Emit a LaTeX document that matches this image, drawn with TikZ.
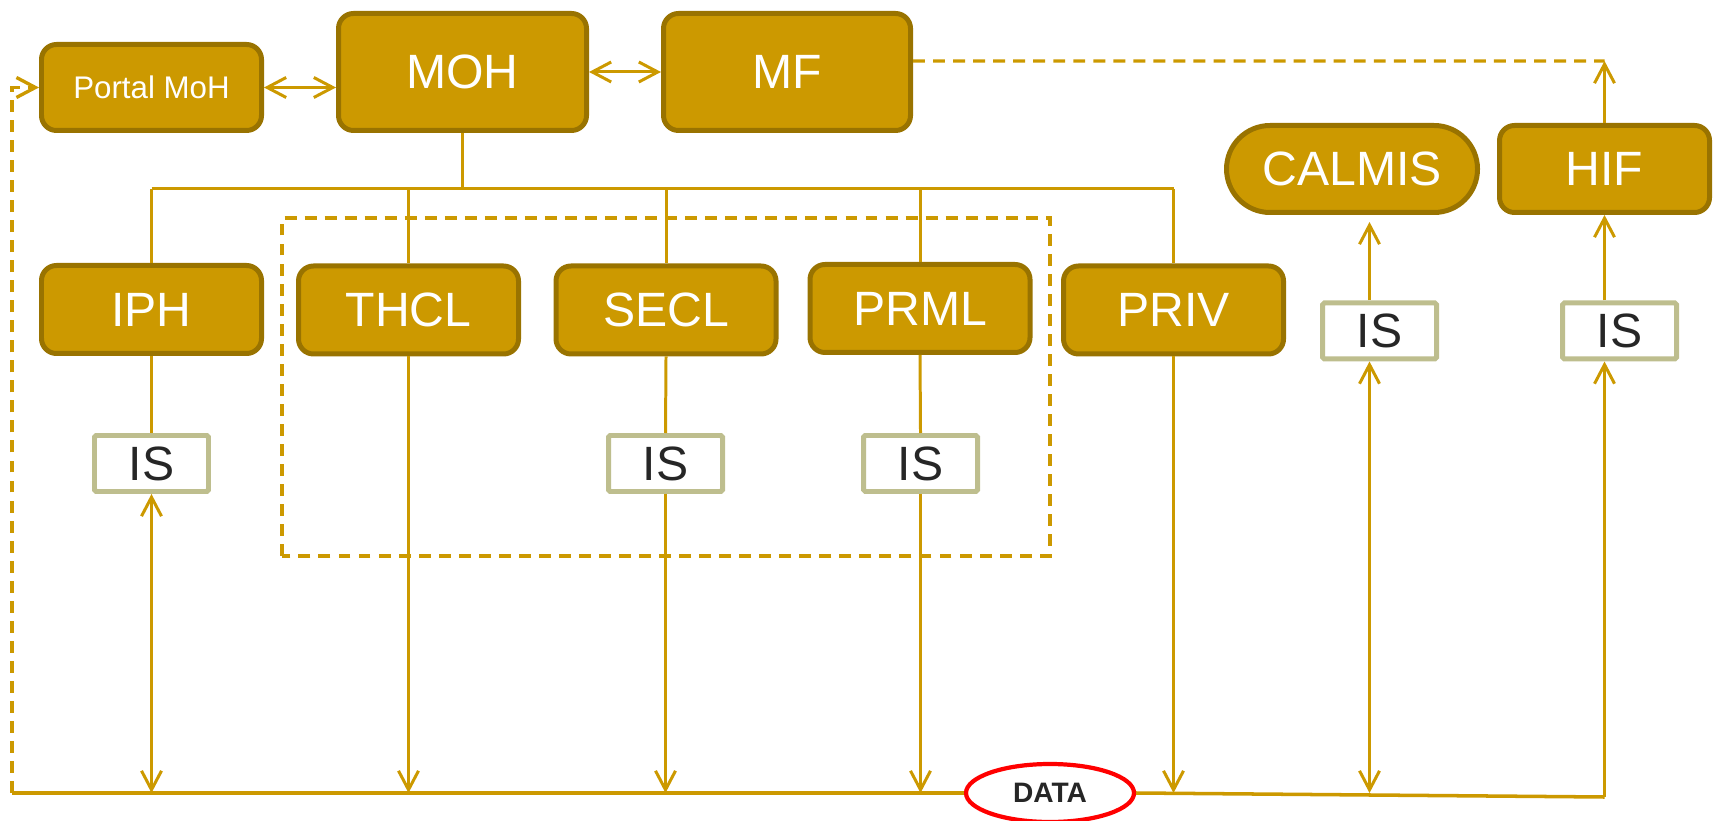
\documentclass[tikz,border=0pt]{standalone}
\usepackage{fontspec}
\setmainfont{Liberation Sans}
\usepackage{tikz}
\usetikzlibrary{arrows.meta}
\usetikzlibrary{shapes.geometric}
\definecolor{gold}{HTML}{CC9900}
\definecolor{golddark}{HTML}{997300}
\definecolor{isgray}{HTML}{BEBE8E}
\definecolor{textgray}{HTML}{262626}
\tikzset{orgbox/.style={draw=golddark, fill=gold, line width=1.42pt, rounded corners=0.15cm, text=white, inner sep=0pt,
  minimum width=2.20cm, minimum height=0.88cm, font=\fontsize{13.7}{14}\selectfont},
isbox/.style={draw=isgray, fill=white, line width=1.42pt, rounded corners=0.5pt, text=textgray, inner sep=0pt,
  minimum width=1.14cm, minimum height=0.56cm, font=\fontsize{13.7}{14}\selectfont},
conn/.style={gold, line width=0.85pt},
%dashed links
dlink/.style={gold, line width=0.95pt, dash pattern=on 3.4pt off 2.3pt}}

\begin{document}
\begin{tikzpicture}[>={Straight Barb[length=1.9mm,width=2mm]}]
\useasboundingbox (0,0) rectangle (17.13,8.20);
% ministries
\node[orgbox, minimum height=0.86cm, font=\fontsize{8.9}{10}\selectfont] (portal) at (1.515,7.325) {Portal MoH};
\node[orgbox, minimum width=2.48cm, minimum height=1.17cm] (moh) at (4.625,7.48) {MOH};
\node[orgbox, minimum width=2.47cm, minimum height=1.17cm] (mf) at (7.87,7.48) {MF};
\node[orgbox, minimum width=2.51cm, minimum height=0.87cm, rounded corners=0.435cm] (calmis) at (13.52,6.51) {CALMIS};
\node[orgbox, minimum width=2.10cm, minimum height=0.87cm] (hif) at (16.045,6.51) {HIF};

% providers
\node[orgbox] (iph) at (1.515,5.105) {IPH};
\node[orgbox] (thcl) at (4.085,5.10) {THCL};
\node[orgbox] (secl) at (6.66,5.10) {SECL};
\node[orgbox] (prml) at (9.20,5.115) {PRML};
\node[orgbox] (priv) at (11.735,5.10) {PRIV};

% information systems
\node[isbox] (isiph) at (1.515,3.565) {IS};
\node[isbox] (issecl) at (6.655,3.565) {IS};
\node[isbox] (isprml) at (9.205,3.565) {IS};
\node[isbox] (iscalmis) at (13.795,4.89) {IS};
\node[isbox] (ishif) at (16.195,4.89) {IS};

\node[ellipse, draw=red, fill=white, line width=1.2pt, minimum width=1.68cm, minimum height=0.58cm, inner sep=0pt,
  text=textgray, font=\bfseries\fontsize{8}{9}\selectfont] (data) at (10.50,0.27) {DATA};

% public group
\draw[dlink] (2.82,2.64) rectangle (10.50,6.02);

% hierarchy
\coordinate (busL) at (1.515,6.31);
\coordinate (busR) at (11.735,6.31);
\draw[conn] (moh.south) -- (moh.south |- busL);
\draw[conn] (busL) -- (busR);
\foreach \n in {iph,thcl,secl,prml,priv}
  \draw[conn] (\n.north |- busL) -- (\n.north);

% data line
\coordinate (bl) at (0.12,0.27);
\coordinate (br) at (16.045,0.23);
\draw[conn, line width=1pt] (bl) -- (data.west);
\draw[conn, line width=1pt] (data.east) -- (br);
\draw[conn] (iph.south) -- (isiph.north);
\draw[conn,<->] (isiph.south) -- (isiph.south |- bl);
\foreach \n in {thcl,priv}
  \draw[conn,->] (\n.south) -- (\n.south |- bl);
\foreach \n in {secl,prml}{
  \draw[conn] (\n.south) -- (is\n.north);
  \draw[conn,->] (is\n.south) -- (is\n.south |- bl);
}

% calmis and hif
\draw[conn,->,shorten >=0.7mm] ([xshift=-1mm]iscalmis.north) -- ([xshift=-1mm]iscalmis.north |- calmis.south);
\draw[conn,<->] ([xshift=-1mm]iscalmis.south) -- ([xshift=-1mm]iscalmis.south |- bl);
\draw[conn,->] (hif.south |- ishif.north) -- (hif.south);
\draw[conn,->] (br) -- (br |- ishif.south);

% ministry links
\draw[conn,<->] (portal.east) -- (portal.east -| moh.west);
\draw[conn,<->] (moh.east) -- (mf.west);
\coordinate (mftop) at (16.045,7.59);
\draw[dlink] ([yshift=1.1mm]mf.east) -- (mftop);
\draw[conn,->] (hif.north) -- (mftop);
\draw[dlink,->] (bl) -- (bl |- portal.west) -- (portal.west);
\end{tikzpicture}
\end{document}
